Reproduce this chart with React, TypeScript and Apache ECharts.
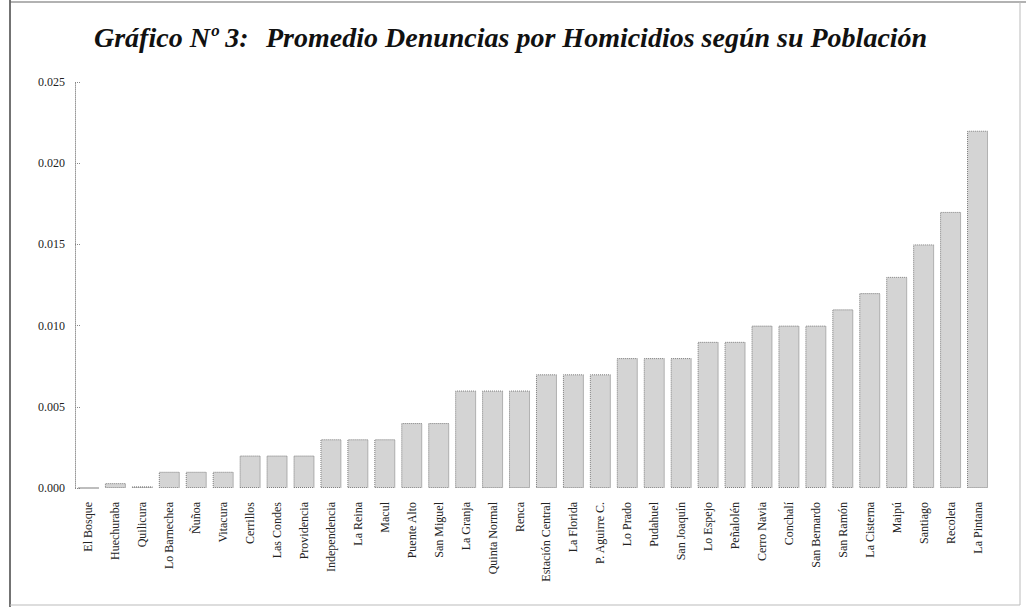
import React, { useEffect, useRef } from "react";
import * as echarts from "echarts";

const categories = [
  "El Bosque", "Huechuraba", "Quilicura", "Lo Barnechea", "Ñuñoa", "Vitacura",
  "Cerrillos", "Las Condes", "Providencia", "Independencia", "La Reina", "Macul",
  "Puente Alto", "San Miguel", "La Granja", "Quinta Normal", "Renca",
  "Estación Central", "La Florida", "P. Aguirre C.", "Lo Prado", "Pudahuel",
  "San Joaquín", "Lo Espejo", "Peñalolén", "Cerro Navia", "Conchalí",
  "San Bernardo", "San Ramón", "La Cisterna", "Maipú", "Santiago", "Recoleta",
  "La Pintana",
];

const values = [
  0, 0.0003, 0.0001, 0.001, 0.001, 0.001,
  0.002, 0.002, 0.002, 0.003, 0.003, 0.003,
  0.004, 0.004, 0.006, 0.006, 0.006,
  0.007, 0.007, 0.007, 0.008, 0.008,
  0.008, 0.009, 0.009, 0.010, 0.010,
  0.010, 0.011, 0.012, 0.013, 0.015, 0.017,
  0.022,
];

const titleLeft = "Gráfico Nº 3:";
const titleRight = "Promedio Denuncias por Homicidios según su Población";

const FONT = "'Liberation Serif', 'DejaVu Serif', serif";

export default function App() {
  const ref = useRef<HTMLDivElement>(null);

  useEffect(() => {
    if (!ref.current) return;
    const chart = echarts.init(ref.current, null, { renderer: "svg" });
    chart.setOption({
      animation: false,
      backgroundColor: "#ffffff",
      grid: { left: 75, right: 35, top: 82, bottom: 119, containLabel: false },
      graphic: [
        {
          type: "line",
          shape: { x1: 10, y1: 0, x2: 10, y2: 607 },
          style: { stroke: "#444", lineWidth: 1.5 },
          silent: true,
        },
        {
          type: "line",
          shape: { x1: 10, y1: 2, x2: 1026, y2: 2 },
          style: { stroke: "#666", lineWidth: 1.2 },
          silent: true,
        },
        {
          type: "line",
          shape: { x1: 1020, y1: 2, x2: 1020, y2: 605 },
          style: { stroke: "#bbb", lineWidth: 1 },
          silent: true,
        },
        {
          type: "line",
          shape: { x1: 10, y1: 605, x2: 1020, y2: 605 },
          style: { stroke: "#bbb", lineWidth: 1 },
          silent: true,
        },
        {
          type: "text",
          x: 94,
          y: 37,
          style: {
            text: titleLeft,
            font: `italic bold 28px ${FONT}`,
            fill: "#111",
            textVerticalAlign: "middle",
          },
        },
        {
          type: "text",
          x: 266,
          y: 37,
          style: {
            text: titleRight,
            font: `italic bold 28px ${FONT}`,
            fill: "#111",
            textVerticalAlign: "middle",
          },
        },
      ],
      xAxis: {
        type: "category",
        data: categories,
        boundaryGap: true,
        axisLine: { show: false },
        axisTick: { show: false },
        axisLabel: {
          rotate: 90,
          interval: 0,
          margin: 14,
          fontFamily: FONT,
          fontSize: 12,
          color: "#222",
        },
        splitLine: { show: false },
      },
      yAxis: {
        type: "value",
        min: 0,
        max: 0.025,
        interval: 0.005,
        axisLine: { show: true, lineStyle: { color: "#999", type: "dotted", width: 1 } },
        axisTick: { show: true, inside: true, length: 5, lineStyle: { color: "#888", type: "dotted" } },
        axisLabel: {
          margin: 10,
          fontFamily: FONT,
          fontSize: 12,
          color: "#222",
          formatter: (v: number) => v.toFixed(3),
        },
        splitLine: { show: false },
      },
      series: [
        {
          type: "bar",
          data: values,
          barWidth: 21,
          itemStyle: {
            color: "#d4d4d4",
            borderColor: "#7a7a7a",
            borderWidth: 1,
            borderType: "dotted",
          },
        },
      ],
    });
    return () => chart.dispose();
  }, []);

  return (
    <div
      ref={ref}
      style={{ position: "fixed", left: 0, top: 0, width: 1026, height: 607 }}
    />
  );
}
